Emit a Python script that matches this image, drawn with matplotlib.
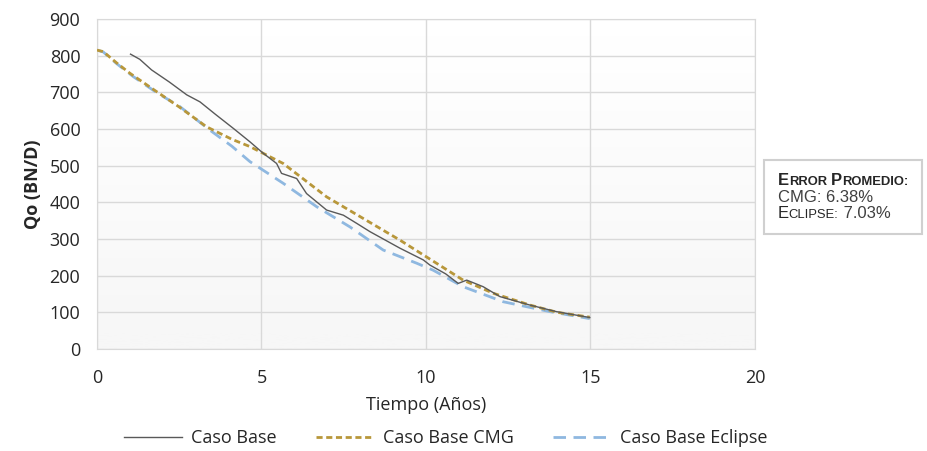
import numpy as np
import matplotlib
matplotlib.use('Agg')
import matplotlib.pyplot as plt
from matplotlib.offsetbox import TextArea, HPacker, VPacker, AnnotationBbox

plt.rcParams['font.family'] = ['Open Sans', 'DejaVu Sans']

# Caso Base (simulado)
base_t = [1.02, 1.3, 1.66, 2.2, 2.73, 3.13, 3.6, 4.14, 4.65, 5.05, 5.46, 5.61, 6.07, 6.37,
          6.98, 7.49, 7.89, 8.3, 9.21, 9.92, 10.12, 10.6, 10.98, 11.24, 11.74, 12.25,
          13.16, 13.97, 14.98]
base_q = [804, 790, 761, 728, 693, 674, 640, 602, 565, 534, 506, 479, 465, 424,
          379, 365, 343, 320, 275, 243, 229, 205, 179, 188, 170, 143,
          120, 102, 86]

# Caso Base CMG
cmg_t = [0.0, 0.19, 0.6, 1.0, 1.81, 2.5, 3.33, 4.1, 4.65, 5.66, 6.98, 8.0, 9.21,
         10.32, 11.13, 12.05, 13.16, 14.0, 14.98]
cmg_q = [815, 811, 780, 752, 702, 660, 606, 572, 552, 506, 415, 361, 297,
         234, 188, 152, 120, 100, 87]

# Caso Base Eclipse
ecl_t = [0.0, 0.19, 0.6, 1.1, 1.8, 2.52, 3.43, 4.1, 4.65, 5.66, 6.68, 7.69, 8.7,
         9.72, 10.22, 11.13, 12.35, 13.77, 14.98]
ecl_q = [815, 810, 778, 743, 700, 661, 597, 553, 511, 452, 388, 333, 270,
         234, 215, 170, 129, 102, 83]

fig = plt.figure(figsize=(9.28, 4.51), dpi=100)
ax = fig.add_axes([0.1045, 0.226, 0.709, 0.732])

# fondo degradado del area de trazado
grad = np.linspace(1.0, 0.0, 256).reshape(-1, 1)
ax.imshow(grad, extent=[0, 20, 0, 900], aspect='auto', cmap='Greys',
          vmin=0, vmax=1.0 / 0.07, origin='lower', zorder=0,
          interpolation='bicubic')

ax.plot(base_t, base_q, color='#595959', lw=1.0, label='Caso Base', zorder=4)
ax.plot(cmg_t, cmg_q, color='#b8973a', lw=2.0, ls=(0, (2.2, 1.3)),
        label='Caso Base CMG', zorder=3)
ax.plot(ecl_t, ecl_q, color='#8fb8e0', lw=2.0, ls=(0, (4.5, 2.7)),
        label='Caso Base Eclipse', zorder=2)

ax.set_xlim(0, 20)
ax.set_ylim(0, 900)
ax.set_xticks(range(0, 21, 5))
ax.set_yticks(range(0, 901, 100))
ax.grid(True, color='#d9d9d9', lw=1.0, zorder=1)
ax.set_axisbelow(True)
for s in ax.spines.values():
    s.set_color('#d9d9d9')
ax.tick_params(length=0, labelsize=13, colors='#262626')
ax.tick_params(axis='x', pad=14)
ax.tick_params(axis='y', pad=12)
ax.set_xlabel('Tiempo (Años)', fontsize=13, color='#262626', labelpad=7)
ax.set_ylabel('Qo (BN/D)', fontsize=13, color='#262626', fontweight='bold', labelpad=5)

ax.legend(loc='center', bbox_to_anchor=(0.53, -0.27), ncol=3, frameon=False,
          fontsize=13, handlelength=3.2, handletextpad=0.5, columnspacing=2.2,
          labelcolor='#262626')


# caja de texto con versalitas simuladas
def smallcaps(word, size, bold=False):
    w = 'bold' if bold else 'normal'
    parts = [TextArea(word[0], textprops=dict(fontsize=size, fontweight=w,
                                               family='Liberation Sans', color='#262626'))]
    parts.append(TextArea(word[1:].upper(), textprops=dict(fontsize=size * 0.78, fontweight=w,
                                                          family='Liberation Sans', color='#262626')))
    return HPacker(children=parts, pad=0, sep=0, align='baseline')


fs = 12
tp = dict(fontsize=fs, family='Liberation Sans', color='#404040')
row1 = HPacker(children=[smallcaps('Error', fs, True),
                         TextArea(' ', textprops=dict(fontsize=fs)),
                         smallcaps('Promedio:', fs, True)], pad=0, sep=0, align='baseline')
row2 = TextArea('CMG: 6.38%', textprops=tp)
row3 = HPacker(children=[smallcaps('Eclipse:', fs), TextArea(' 7.03%', textprops=tp)],
               pad=0, sep=0, align='baseline')
box = VPacker(children=[row1, row2, row3], pad=0, sep=0.5, align='left')
ab = AnnotationBbox(box, (0.838, 0.563), xycoords='figure fraction', box_alignment=(0, 0.5),
                    frameon=True, pad=0.95,
                    bboxprops=dict(edgecolor='#d0d0d0', facecolor='white', lw=1.5))
fig.add_artist(ab)

fig.savefig('out.png', dpi=100)
